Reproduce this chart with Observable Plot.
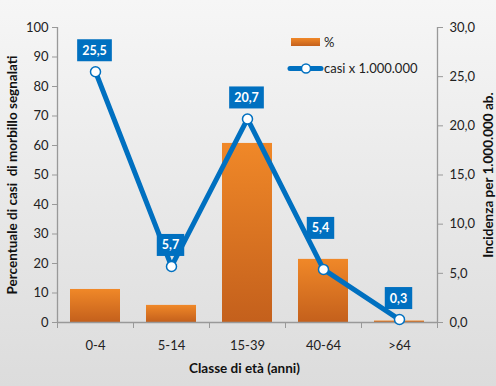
<!DOCTYPE html>
<html>
<head>
<meta charset="utf-8">
<script src="https://cdn.jsdelivr.net/npm/d3@7"></script>
<script src="https://cdn.jsdelivr.net/npm/@observablehq/plot@0.6"></script>
<style>
  html, body { margin: 0; padding: 0; }
  body { width: 496px; height: 386px; overflow: hidden; }
  #chart { width: 496px; height: 386px; background: linear-gradient(#f6f6f6, #dcdcdc); }
  #chart svg { display: block; }
</style>
</head>
<body>
<div id="chart"></div>
<script>
const categories = ["0-4", "5-14", "15-39", "40-64", ">64"];
const percent = [11.2, 5.8, 60.7, 21.4, 0.5];
const incidence = [25.5, 5.7, 20.7, 5.4, 0.3];
const leftTicks = [0, 10, 20, 30, 40, 50, 60, 70, 80, 90, 100];
const rightTicks = [0, 5, 10, 15, 20, 25, 30];
const leftTitle = "Percentuale di casi  di morbillo segnalati";
const rightTitle = "Incidenza per 1.000.000 ab.";
const xTitle = "Classe di età (anni)";
const legendBar = "%";
const legendLine = "casi x 1.000.000";
const raisedLabel = "40-64";

const rightMax = 30, leftMax = 100;
const toLeft = v => v * leftMax / rightMax;
const fmt1 = v => v.toFixed(1).replace(".", ",");

const data = categories.map((c, i) => ({cat: c, i, pct: percent[i], inc: incidence[i], incL: toLeft(incidence[i])}));

const font = "Lato, 'Open Sans', sans-serif";
const blue = "#0070c0";
const axisGrey = "#999";

function defs() {
  const ns = "http://www.w3.org/2000/svg";
  const d = document.createElementNS(ns, "defs");
  const g = document.createElementNS(ns, "linearGradient");
  g.setAttribute("id", "barGrad");
  g.setAttribute("x1", "0"); g.setAttribute("y1", "0");
  g.setAttribute("x2", "0"); g.setAttribute("y2", "1");
  [["0%", "#f08828"], ["100%", "#c4601c"]].forEach(([o, c]) => {
    const s = document.createElementNS(ns, "stop");
    s.setAttribute("offset", o); s.setAttribute("stop-color", c);
    g.appendChild(s);
  });
  d.appendChild(g);
  return d;
}

const plot = Plot.plot({
  width: 496,
  height: 386,
  marginLeft: 57,
  marginRight: 59,
  marginTop: 27,
  marginBottom: 64,
  style: {background: "transparent", fontFamily: font, fontSize: "13px", color: "#222"},
  x: {domain: [0, categories.length], axis: null},
  y: {domain: [0, leftMax], axis: null},
  marks: [
    defs,
    // bars
    Plot.rectY(data, {x1: d => d.i, x2: d => d.i + 1, y: "pct", insetLeft: 13, insetRight: 13, fill: "url(#barGrad)"}),
    // axes lines
    Plot.ruleX([0, categories.length], {stroke: axisGrey, strokeWidth: 1.3}),
    Plot.ruleY([0], {stroke: axisGrey, strokeWidth: 1.3}),
    Plot.axisY({ticks: leftTicks, tickSize: 5, tickPadding: 4, label: null, fontSize: 13, stroke: axisGrey, fill: "#222"}),
    Plot.axisY({anchor: "right", ticks: rightTicks.map(toLeft), tickFormat: d => fmt1(d * rightMax / leftMax), tickSize: 5, tickPadding: 7, label: null, fontSize: 13, stroke: axisGrey, fill: "#222"}),
    Plot.axisX({ticks: d3.range(categories.length + 1), tickFormat: () => "", tickSize: 6, stroke: axisGrey, label: null}),
    Plot.text(data, {x: d => d.i + 0.5, y: 0, text: "cat", dy: 23, fontSize: 13, fill: "#222"}),
    // titles
    Plot.text([xTitle], {frameAnchor: "bottom", textAnchor: "middle", dy: 50, dx: -3, fontWeight: "bold", fontSize: 13.5, fill: "#111"}),
    Plot.text([leftTitle], {frameAnchor: "left", textAnchor: "middle", dx: -45, rotate: -90, fontWeight: "bold", fontSize: 13.5, fill: "#111"}),
    Plot.text([rightTitle], {frameAnchor: "right", textAnchor: "middle", dx: 51, rotate: -90, fontWeight: "bold", fontSize: 13.5, fill: "#111"}),
    // line
    Plot.line(data, {x: d => d.i + 0.5, y: "incL", stroke: blue, strokeWidth: 5, strokeLinejoin: "round"}),
    Plot.dot(data, {x: d => d.i + 0.5, y: "incL", r: 5, fill: "white", stroke: blue, strokeWidth: 1.5}),
    // labels
    Plot.text(data.filter(d => d.cat !== raisedLabel), {x: d => d.i + 0.5, y: "incL", text: d => fmt1(d.inc), dy: -21, dx: -1, fill: "white", fontWeight: "bold", fontSize: 12.5, className: "vlabel"}),
    Plot.text(data.filter(d => d.cat === raisedLabel), {x: d => d.i + 0.5, y: "incL", text: d => fmt1(d.inc), dy: -41, dx: -3, fill: "white", fontWeight: "bold", fontSize: 12.5, className: "vlabel"})
  ]
});

document.getElementById("chart").appendChild(plot);

// boxes behind labels
const ns = "http://www.w3.org/2000/svg";
plot.querySelectorAll("g.vlabel text").forEach(t => {
  const b = t.getBBox();
  const r = document.createElementNS(ns, "rect");
  const padX = 5, h = 22;
  r.setAttribute("x", b.x - padX);
  r.setAttribute("y", b.y + b.height / 2 - h / 2);
  r.setAttribute("width", b.width + 2 * padX);
  r.setAttribute("height", h);
  r.setAttribute("fill", blue);
  const tr = t.getAttribute("transform");
  if (tr) r.setAttribute("transform", tr);
  t.parentNode.insertBefore(r, t);
});

// legend
const leg = document.createElementNS(ns, "g");
leg.setAttribute("font-family", font);
leg.setAttribute("font-size", "13");
leg.setAttribute("text-anchor", "start");
leg.innerHTML = `
  <rect x="291" y="38" width="29" height="8" fill="url(#barGrad)"></rect>
  <text x="324" y="47" fill="#222">${legendBar}</text>
  <line x1="290" y1="68.5" x2="321" y2="68.5" stroke="${blue}" stroke-width="5" stroke-linecap="round"></line>
  <circle cx="306" cy="68.5" r="4.5" fill="white" stroke="${blue}" stroke-width="1.5"></circle>
  <text x="324" y="73" fill="#222">${legendLine}</text>
`;
plot.appendChild(leg);
</script>
</body>
</html>
